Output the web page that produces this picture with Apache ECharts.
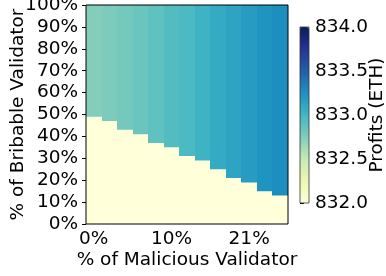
<!DOCTYPE html>
<html>
<head>
<meta charset="utf-8">
<script src="https://cdn.jsdelivr.net/npm/echarts@6/dist/echarts.min.js"></script>
<style>
  html, body { margin: 0; padding: 0; background: #fff; }
  #chart { width: 386px; height: 276px; }
</style>
</head>
<body>
<div id="chart"></div>
<script>
// x: % of malicious validators (13 columns), only every 5th gets a label
const maliciousLabels = ["0%", "2%", "4%", "6%", "8%", "10%", "13%", "15%", "17%", "19%", "21%", "23%", "25%"];
// first bribable % where the attack pays, per column
const profitStart = [49, 47, 43, 41, 37, 35, 31, 29, 25, 21, 19, 15, 13];
// profit (ETH) above that point, per column
const profitValue = [832.74, 832.76, 832.79, 832.84, 832.88, 832.93, 832.96, 833.02, 833.08, 833.13, 833.18, 833.23, 833.26];
const baseProfit = 832.0;

const ylgnbu = ["#ffffd9", "#edf8b1", "#c7e9b4", "#7fcdbb", "#41b6c4", "#1d91c0", "#225ea8", "#253494", "#081d58"];
const font = "DejaVu Sans";
const fs = 18.5;

// [column, from %, to %, profit]
const blocks = [];
maliciousLabels.forEach((_, c) => {
  blocks.push([c, 0, profitStart[c], baseProfit]);
  blocks.push([c, profitStart[c], 100, profitValue[c]]);
});

function renderBlock(params, api) {
  const c = api.value(0);
  const top = api.coord([c, api.value(2)]);
  const bottom = api.coord([c, api.value(1)]);
  const w = api.size([1, 0])[0];
  const x0 = Math.round(top[0] - w / 2);
  const x1 = Math.round(top[0] + w / 2);
  return {
    type: "rect",
    shape: { x: x0, y: top[1], width: x1 - x0, height: bottom[1] - top[1] },
    style: { fill: api.visual("color") }
  };
}

const chart = echarts.init(document.getElementById("chart"), null, { renderer: "canvas" });
chart.setOption({
  animation: false,
  backgroundColor: "#fff",
  textStyle: { fontFamily: font, color: "#000" },
  grid: [
    { left: 86, right: 98, top: 5, bottom: 52, outerBoundsMode: "none", containLabel: false, show: true, z: 10, borderColor: "#000", borderWidth: 1, backgroundColor: "transparent" },
    { left: 300, top: 27, width: 9, height: 176, outerBoundsMode: "none", containLabel: false, show: true, z: 10, borderColor: "#333", borderWidth: 0.8, backgroundColor: "transparent" }
  ],
  xAxis: [
    {
      type: "category", gridIndex: 0, data: maliciousLabels, boundaryGap: true,
      name: "% of Malicious Validator", nameLocation: "middle", nameGap: 27, nameMoveOverlap: false,
      nameTextStyle: { fontSize: fs, color: "#000", fontFamily: font },
      axisLine: { show: false },
      axisTick: { interval: (i) => i % 5 === 0, alignWithLabel: true, length: 4, lineStyle: { color: "#000" } },
      axisLabel: { interval: (i) => i % 5 === 0, fontSize: fs, color: "#000", fontFamily: font, margin: 6 },
      splitLine: { show: false }
    },
    { type: "value", gridIndex: 1, show: false, min: 0, max: 1 }
  ],
  yAxis: [
    {
      type: "value", gridIndex: 0, min: 0, max: 100, interval: 10,
      name: "% of Bribable Validator", nameLocation: "middle", nameGap: 58, nameMoveOverlap: false,
      nameTextStyle: { fontSize: fs, color: "#000", fontFamily: font },
      axisLine: { show: false },
      axisTick: { show: true, length: 4, lineStyle: { color: "#000" } },
      axisLabel: { fontSize: fs, color: "#000", fontFamily: font, margin: 8, formatter: "{value}%" },
      splitLine: { show: false }
    },
    {
      type: "value", gridIndex: 1, position: "right", min: 832, max: 834, interval: 0.5,
      name: "Profits (ETH)", nameLocation: "middle", nameGap: 59, nameRotate: 90, nameMoveOverlap: false,
      nameTextStyle: { fontSize: fs, color: "#000", fontFamily: font },
      axisLine: { show: false },
      axisTick: { show: true, length: 4, lineStyle: { color: "#000" } },
      axisLabel: { fontSize: fs, color: "#000", fontFamily: font, margin: 6, formatter: (v) => v.toFixed(1) },
      splitLine: { show: false }
    }
  ],
  visualMap: {
    type: "continuous", min: 832, max: 834, seriesIndex: 0, dimension: 3,
    calculable: false, realtime: false, hoverLink: false,
    left: 300, top: 27, itemWidth: 9, itemHeight: 176, padding: 0,
    showLabel: false,
    inRange: { color: ylgnbu },
    orient: "vertical"
  },
  series: [{
    type: "custom", xAxisIndex: 0, yAxisIndex: 0, data: blocks,
    renderItem: renderBlock,
    encode: { x: 0, y: [1, 2] },
    clip: true, silent: true
  }]
});
</script>
</body>
</html>
